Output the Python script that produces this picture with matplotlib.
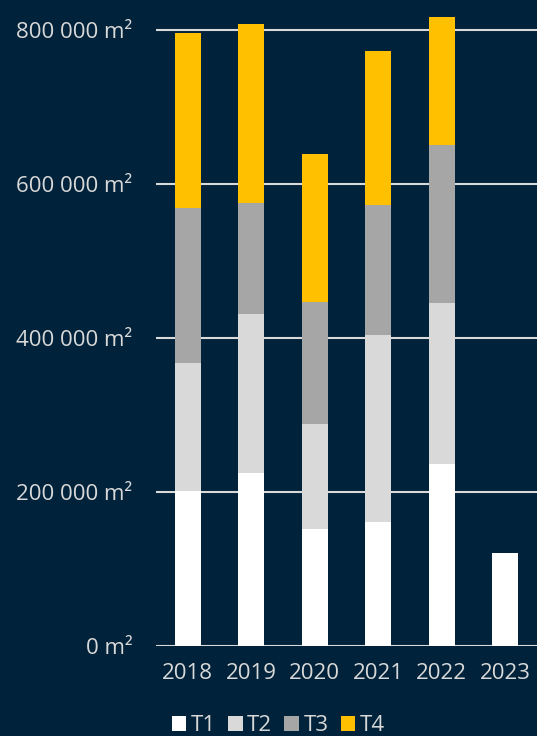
import matplotlib
matplotlib.use("Agg")
import matplotlib.pyplot as plt
import numpy as np

years = ["2018", "2019", "2020", "2021", "2022", "2023"]
t1 = [201000, 224700, 151900, 161000, 236400, 120800]
t2 = [166500, 206500, 136400, 242900, 209100, 0]
t3 = [201300, 144100, 158500, 168800, 205100, 0]
t4 = [227300, 232500, 192200, 200000, 166300, 0]
series_names = ["T1", "T2", "T3", "T4"]
colors = ["#FFFFFF", "#D9D9D9", "#A6A6A6", "#FFC000"]
yticks = [0, 200000, 400000, 600000, 800000]
ytick_labels = ["0 m²", "200 000 m²", "400 000 m²", "600 000 m²", "800 000 m²"]

bg = "#00223A"
txt = "#D9D9D9"
plt.rcParams['font.family'] = ['Open Sans', 'DejaVu Sans']

fig = plt.figure(figsize=(5.37, 7.36), dpi=100, facecolor=bg)
ax = fig.add_axes([156/537, 90/736, 1 - 156/537, 1 - 90/736], facecolor=bg)

x = np.arange(len(years))
bottom = np.zeros(len(years))
for vals, c, name in zip([t1, t2, t3, t4], colors, series_names):
    v = np.array(vals, dtype=float)
    ax.bar(x, v, width=0.41, bottom=bottom, color=c, label=name, zorder=3,
           edgecolor=c, linewidth=0)
    bottom += v

ax.set_xlim(-0.5, 5.5)
ax.set_ylim(0, 839000)
ax.set_yticks(yticks)
ax.set_yticklabels(ytick_labels)
ax.set_xticks(x)
ax.set_xticklabels(years)
ax.tick_params(axis='both', length=0, colors=txt, labelsize=16)
ax.tick_params(axis='y', pad=17)
ax.tick_params(axis='x', pad=12)
ax.yaxis.grid(True, color="#D9D9D9", linewidth=1.5, zorder=0)
for s in ax.spines.values():
    s.set_visible(False)

handles, labels = ax.get_legend_handles_labels()
leg = fig.legend(handles, labels, loc='lower left', bbox_to_anchor=(152/537, -20/736),
                 ncol=4, frameon=False, fontsize=16, handlelength=0.65, handleheight=0.65,
                 handletextpad=0.2, columnspacing=0.55)
for t in leg.get_texts():
    t.set_color(txt)

fig.savefig("out.png", dpi=100, facecolor=bg)
